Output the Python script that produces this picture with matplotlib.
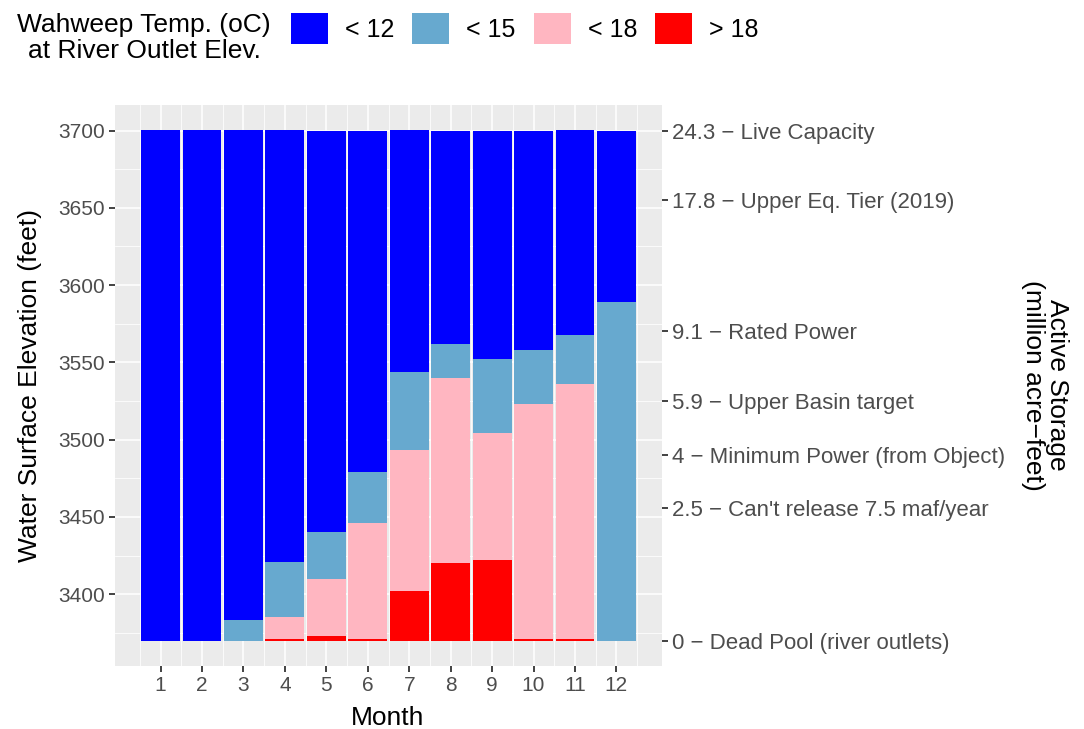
import numpy as np
import matplotlib
matplotlib.use("Agg")
import matplotlib.pyplot as plt
from matplotlib.patches import Patch
from matplotlib.ticker import FixedLocator

plt.rcParams['font.family'] = ['Liberation Sans', 'DejaVu Sans']

# data (feet of water column per temperature class)
months = list(range(1, 13))
dead_pool = 3370
gt18 = [0, 0, 0, 1, 3, 1, 32, 50, 52, 1, 1, 0]
lt18 = [0, 0, 0, 14, 37, 75, 91, 120, 82, 152, 165, 0]
lt15 = [0, 0, 13, 36, 30, 33, 51, 22, 48, 35, 32, 219]
lt12 = [330, 330, 317, 279, 260, 221, 156, 138, 148, 142, 132, 111]

classes = ["< 12", "< 15", "< 18", "> 18"]
colors = ["#0000FF", "#67A9CF", "#FFB6C1", "#FF0000"]

elev_ticks = [3400, 3450, 3500, 3550, 3600, 3650, 3700]
storage_elev = [3370, 3456, 3490, 3525, 3570, 3655, 3700]
storage_labels = [
    "0 \u2212 Dead Pool (river outlets)",
    "2.5 \u2212 Can't release 7.5 maf/year",
    "4 \u2212 Minimum Power (from Object)",
    "5.9 \u2212 Upper Basin target",
    "9.1 \u2212 Rated Power",
    "17.8 \u2212 Upper Eq. Tier (2019)",
    "24.3 \u2212 Live Capacity",
]

W, H = 1084, 729
fig = plt.figure(figsize=(W / 100, H / 100), dpi=100)
L, R, T, B = 115, 662, 105, 666
ax = fig.add_axes([L / W, 1 - B / H, (R - L) / W, (B - T) / H])

ax.set_facecolor("#EBEBEB")
for s in ax.spines.values():
    s.set_visible(False)

# stack from the bottom: warmest first
stack = [(gt18, colors[3]), (lt18, colors[2]), (lt15, colors[1]), (lt12, colors[0])]
bottom = np.full(len(months), dead_pool, dtype=float)
for vals, col in stack:
    ax.bar(months, vals, bottom=bottom, width=0.94, color=col, linewidth=0, zorder=3)
    bottom += np.array(vals)

ax.set_xlim(-0.1, 13.1)
ax.set_ylim(3353.5, 3716.5)
ax.set_xticks(months)
ax.set_yticks(elev_ticks)
ax.xaxis.set_minor_locator(FixedLocator([m + 0.5 for m in range(0, 13)]))
ax.yaxis.set_minor_locator(FixedLocator(np.arange(3375, 3700, 50)))
ax.grid(which="major", color="white", linewidth=1.1, zorder=0)
ax.grid(which="minor", color="white", linewidth=0.55, zorder=0)
ax.set_axisbelow(True)
ax.tick_params(which="major", length=4, width=1.3, color="#333333",
               labelcolor="#4D4D4D", labelsize=15, pad=3)
ax.tick_params(which="minor", length=0)

ax2 = ax.twinx()
ax2.set_ylim(ax.get_ylim())
for s in ax2.spines.values():
    s.set_visible(False)
ax2.set_yticks(storage_elev)
ax2.set_yticklabels(storage_labels)
ax2.tick_params(length=4, width=1.3, color="#333333", labelcolor="#4D4D4D",
                labelsize=16, pad=3)

fig.text(30 / W, 1 - 385 / H, "Water Surface Elevation (feet)", rotation=90,
         ha="center", va="center", fontsize=19)
fig.text(388 / W, 1 - 725 / H, "Month", ha="center", va="baseline", fontsize=19)
fig.text(1045 / W, 1 - 385 / H, "Active Storage\n(million acre\u2212feet)",
         rotation=270, ha="center", va="center", multialignment="center",
         fontsize=19, linespacing=1.05)

# legend across the top
fig.text(144 / W, 1 - 38 / H, "Wahweep Temp. (oC)\nat River Outlet Elev.",
         ha="center", va="center", multialignment="center", fontsize=19,
         linespacing=1.15)
handles = [Patch(facecolor=c, edgecolor="none") for c in colors]
fig.legend(handles, classes, ncol=4, loc="center left",
           bbox_to_anchor=(291 / W, 1 - 28.5 / H), frameon=False, fontsize=18,
           handlelength=1.48, handleheight=1.56, handletextpad=0.68,
           columnspacing=0.72, borderpad=0, borderaxespad=0)

fig.savefig("out.png", dpi=100)
